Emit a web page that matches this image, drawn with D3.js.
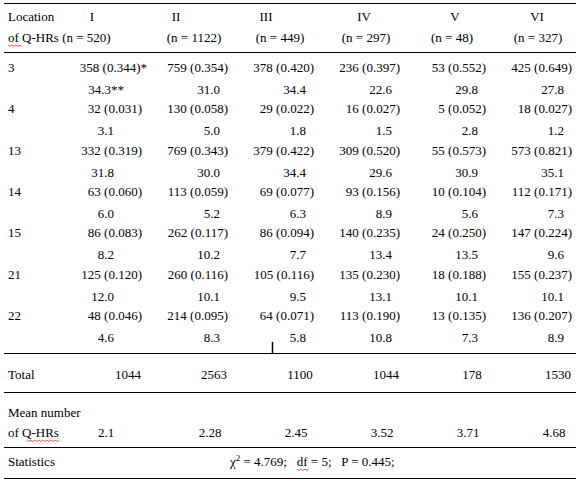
<!DOCTYPE html>
<html><head><meta charset="utf-8">
<script src="https://cdn.jsdelivr.net/npm/d3@7"></script>
<style>body{margin:0;background:#fff}text{font-family:"Liberation Serif","Times New Roman",serif;font-size:13px;fill:#000}</style>
</head><body><div id="chart"></div>
<script>
const groups = ['I', 'II', 'III', 'IV', 'V', 'VI'];
const groupN = [520, 1122, 449, 297, 48, 327];
const locations = ['3', '4', '13', '14', '15', '21', '22'];
// counts[location][group]
const counts = [
  [358, 759, 378, 236, 53, 425],
  [32, 130, 29, 16, 5, 18],
  [332, 769, 379, 309, 55, 573],
  [63, 113, 69, 93, 10, 112],
  [86, 262, 86, 140, 24, 147],
  [125, 260, 105, 135, 18, 155],
  [48, 214, 64, 113, 13, 136]
];
const props = [
  ['0.344', '0.354', '0.420', '0.397', '0.552', '0.649'],
  ['0.031', '0.058', '0.022', '0.027', '0.052', '0.027'],
  ['0.319', '0.343', '0.422', '0.520', '0.573', '0.821'],
  ['0.060', '0.059', '0.077', '0.156', '0.104', '0.171'],
  ['0.083', '0.117', '0.094', '0.235', '0.250', '0.224'],
  ['0.120', '0.116', '0.116', '0.230', '0.188', '0.237'],
  ['0.046', '0.095', '0.071', '0.190', '0.135', '0.207']
];
const percents = [
  ['34.3', '31.0', '34.4', '22.6', '29.8', '27.8'],
  ['3.1', '5.0', '1.8', '1.5', '2.8', '1.2'],
  ['31.8', '30.0', '34.4', '29.6', '30.9', '35.1'],
  ['6.0', '5.2', '6.3', '8.9', '5.6', '7.3'],
  ['8.2', '10.2', '7.7', '13.4', '13.5', '9.6'],
  ['12.0', '10.1', '9.5', '13.1', '10.1', '10.1'],
  ['4.6', '8.3', '5.8', '10.8', '7.3', '8.9']
];
const totals = [1044, 2563, 1100, 1044, 178, 1530];
const means = ['2.1', '2.28', '2.45', '3.52', '3.71', '4.68'];

const width = 580, height = 490;
const svg = d3.select('#chart').append('svg').attr('width', width).attr('height', height);

// column right edges for the count/proportion text
const x = d3.scalePoint().domain(groups).range([142, 572]);
const y = d3.scalePoint().domain(locations).range([72, 320]);
const numeralShift = [-50, -52, -48, -36, -31, -35];

const hline = (yy) => svg.append('line').attr('x1', 4).attr('x2', 576)
  .attr('y1', yy).attr('y2', yy).attr('stroke', '#000').attr('stroke-width', 1);
[3.5, 52.5, 353.5, 392.5, 447.5, 478.5].forEach(hline);
svg.append('line').attr('x1', 272.5).attr('x2', 272.5).attr('y1', 342).attr('y2', 353)
  .attr('stroke', '#000').attr('stroke-width', 1.5);

const squiggle = (x0, x1, yy) => {
  let d = `M${x0},${yy}`;
  for (let xx = x0, k = 0; xx < x1; xx += 2, k++) d += `L${xx + 2},${yy + (k % 2 ? 0 : 1.5)}`;
  svg.append('path').attr('d', d).attr('fill', 'none').attr('stroke', '#d33').attr('stroke-width', 0.8);
};

// header
svg.append('text').attr('x', 8).attr('y', 21).text('Location');
svg.append('text').attr('x', 8).attr('y', 42).text('of Q-HRs (n = 520)');
squiggle(8, 21, 45);
groups.forEach((g, i) => {
  svg.append('text').attr('x', x(g) + numeralShift[i]).attr('y', 21).attr('text-anchor', 'middle').text(g);
  if (i > 0) svg.append('text').attr('x', x(g) - 34).attr('y', 42).attr('text-anchor', 'middle').text(`(n = ${groupN[i]})`);
});

// body rows
locations.forEach((loc, r) => {
  svg.append('text').attr('x', 8).attr('y', y(loc)).text(loc);
  groups.forEach((g, c) => {
    let s = `${counts[r][c]} (${props[r][c]}` + (c === 0 && r === 0 ? ')*' : ')');
    svg.append('text').attr('x', x(g) + (c === 0 && r === 0 ? 5 : 0)).attr('y', y(loc))
      .attr('text-anchor', 'end').text(s);
    const p = percents[r][c] + (c === 0 && r === 0 ? '**' : '');
    svg.append('text').attr('x', x(g) - 8 + (c === 0 && r === 0 ? 10 : 0) - (c === 0 ? 20 : 0))
      .attr('y', y(loc) + 22).attr('text-anchor', 'end').text(p);
  });
});

// totals and means
svg.append('text').attr('x', 8).attr('y', 379).text('Total');
svg.append('text').attr('x', 8).attr('y', 417).text('Mean number');
svg.append('text').attr('x', 8).attr('y', 437).text('of Q-HRs');
squiggle(27, 58, 440);
groups.forEach((g, c) => {
  svg.append('text').attr('x', x(g) - 14).attr('y', 379).attr('text-anchor', 'middle').text(totals[c]);
  svg.append('text').attr('x', x(g) - 18 - (c === 0 ? 18 : 0)).attr('y', 437).attr('text-anchor', 'middle').text(means[c]);
});

// statistics
svg.append('text').attr('x', 8).attr('y', 466).text('Statistics');
const st = svg.append('text').attr('x', 230).attr('y', 466).attr('xml:space', 'preserve');
st.append('tspan').text('\u03c7');
st.append('tspan').attr('dy', -5).attr('font-size', '9px').text('2');
st.append('tspan').attr('dy', 5).text(' = 4.769;   df = 5;   P = 0.445;');
squiggle(297, 309, 469);
</script></body></html>
